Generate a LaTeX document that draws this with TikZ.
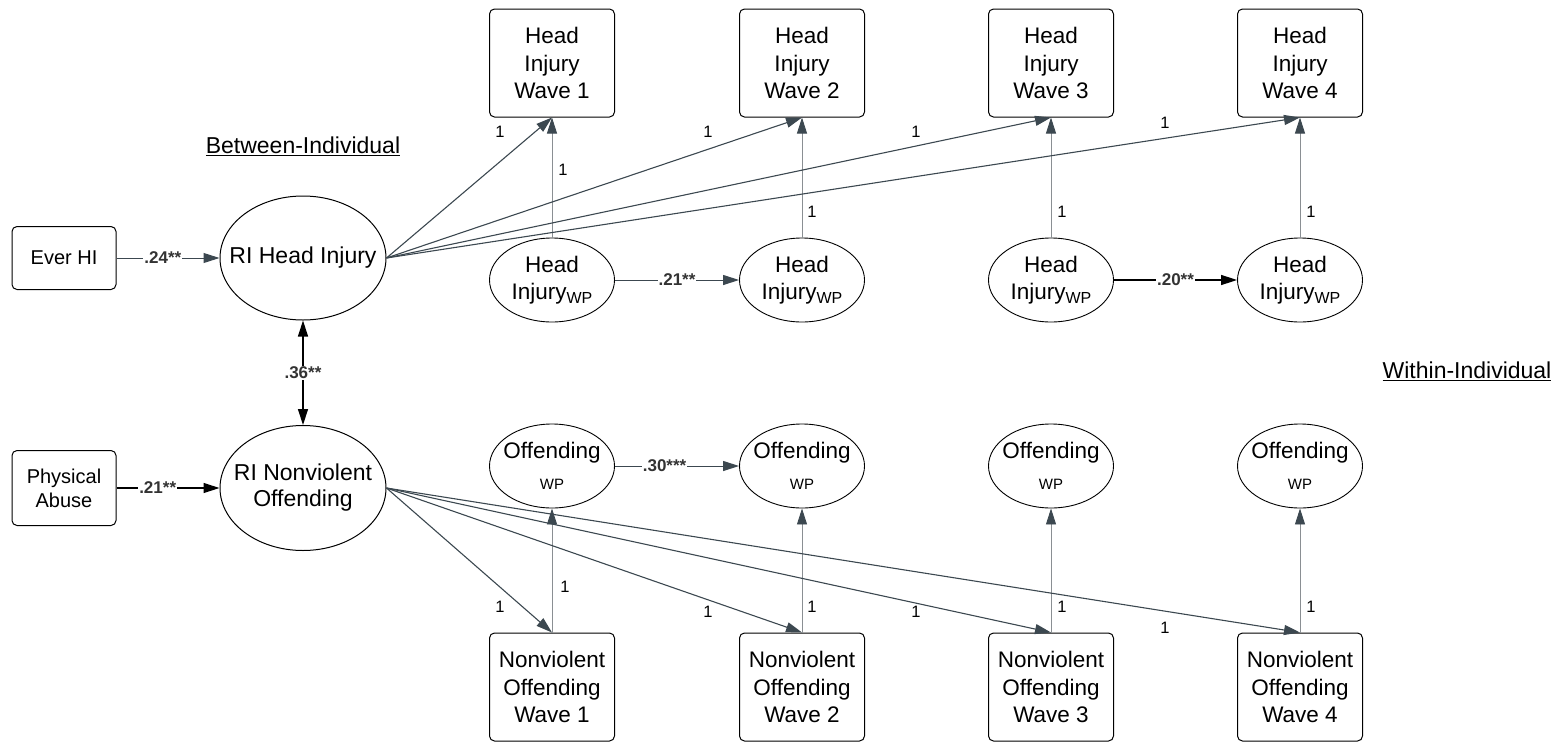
\documentclass[tikz,border=0pt]{standalone}
\usepackage{fontspec}
\setmainfont{Liberation Sans}
\usetikzlibrary{shapes.geometric,arrows.meta}
\definecolor{ln}{HTML}{3C4850}
\definecolor{lgray}{HTML}{8A8F93}
\definecolor{coefc}{HTML}{333333}
\begin{document}
\begin{tikzpicture}[x=1pt,y=-1pt,
  wavebox/.style={draw, rounded corners=5pt, line width=1pt, align=center,
    font=\fontsize{22.5}{27.5}\selectfont, minimum width=125pt, minimum height=108pt, inner sep=0pt},
  smallbox/.style={draw, rounded corners=5pt, line width=1pt, align=center,
    font=\fontsize{20}{24}\selectfont, minimum width=104pt, inner sep=0pt},
  wpell/.style={draw, ellipse, line width=0.9pt, minimum width=125pt, minimum height=84pt,
    inner sep=0pt},
  riell/.style={draw, ellipse, line width=1pt, minimum width=166pt, minimum height=124pt,
    inner sep=0pt},
  intext/.style={align=center, font=\fontsize{22.5}{27}\selectfont, inner sep=0pt},
  ritext/.style={align=center, font=\fontsize{23}{26}\selectfont, inner sep=0pt},
  fan/.style={draw=ln, line width=1.1pt, -{Triangle[length=16pt,width=10pt,color=ln]}},
  vert/.style={draw=lgray, line width=0.9pt, -{Triangle[length=16pt,width=10pt,color=ln]}},
  blk/.style={draw=black, line width=1.3pt, -{Triangle[length=16pt,width=10pt]}},
  one/.style={font=\fontsize{16.5}{16.5}\selectfont, inner sep=0pt},
  coef/.style={font=\bfseries\fontsize{17}{17}\selectfont, text=coefc, fill=white, inner sep=1pt},
  heading/.style={font=\fontsize{23}{23}\selectfont, inner sep=0pt}
]
\useasboundingbox (0,0) rectangle (1559,742);

% wave boxes and within-person ellipses
\foreach \i/\x in {1/552,2/802,3/1051,4/1300}{
  \node[wavebox] (hw\i) at (\x,63) {Head\\Injury\\Wave \i};
  \node[wavebox] (nw\i) at (\x,687) {Nonviolent\\Offending\\Wave \i};
  \node[wpell, label={[intext]center:Head\\Injury{\fontsize{16}{16}\selectfont\raisebox{-4pt}{WP}}}] (hp\i) at (\x,280) {};
  \node[wpell, label={[intext]center:Offending\\[4pt]{\fontsize{15}{15}\selectfont WP}}] (op\i) at (\x,466) {};
}

\node[riell, label={[ritext]center:RI Head Injury}] (rih) at (303,258) {};
\node[riell, minimum height=125pt, label={[ritext]center:RI Nonviolent\\Offending}] (rin) at (303,488) {};
\node[smallbox, minimum height=63pt] (ever) at (64,258) {Ever HI};
\node[smallbox, minimum height=75pt] (phys) at (64,488) {Physical\\Abuse};

\node[heading] (bt) at (303,146) {\underline{Between-Individual}};
\node[heading] (wt) at (1467,371) {\underline{Within-Individual}};

% fan and loading arrows
\foreach \i in {1,2,3,4}{
  \draw[fan] (rih.east) -- (hw\i.south);
  \draw[fan] (rin.east) -- (nw\i.north);
  \draw[vert] (hp\i.north) -- (hw\i.south);
  \draw[vert] (nw\i.north) -- (op\i.south);
}

% loading labels
\node[one] (t1) at (500,132) {1};
\node[one] (t2) at (708,132) {1};
\node[one] (t3) at (916,132) {1};
\node[one] (t4) at (1165,123) {1};
\node[one] (b1) at (500,607) {1};
\node[one] (b2) at (708,612) {1};
\node[one] (b3) at (916,612) {1};
\node[one] (b4) at (1165,628) {1};
\node[one] (v1) at (563,170) {1};
\node[one] (v2) at (812,212) {1};
\node[one] (v3) at (1062,212) {1};
\node[one] (v4) at (1311,212) {1};
\node[one] (u1) at (565,587) {1};
\node[one] (u2) at (812,607) {1};
\node[one] (u3) at (1062,607) {1};
\node[one] (u4) at (1311,607) {1};

% coefficient arrows
\draw[fan, line width=1pt] (ever) -- node[coef, pos=0.45] {.24**} (rih);
\draw[blk] (phys) -- node[coef, pos=0.4] {.21**} (rin);
\draw[blk, {Triangle[length=16pt,width=10pt]}-{Triangle[length=16pt,width=10pt]}] (rih) -- node[coef] {.36**} (rin);
\draw[fan, line width=1pt] (hp1) -- node[coef, pos=0.5] {.21**} (hp2);
\draw[blk] (hp3) -- node[coef, pos=0.5] {.20**} (hp4);
\draw[fan, line width=1pt] (op1) -- node[coef, pos=0.4] {.30***} (op2);
\end{tikzpicture}
\end{document}
